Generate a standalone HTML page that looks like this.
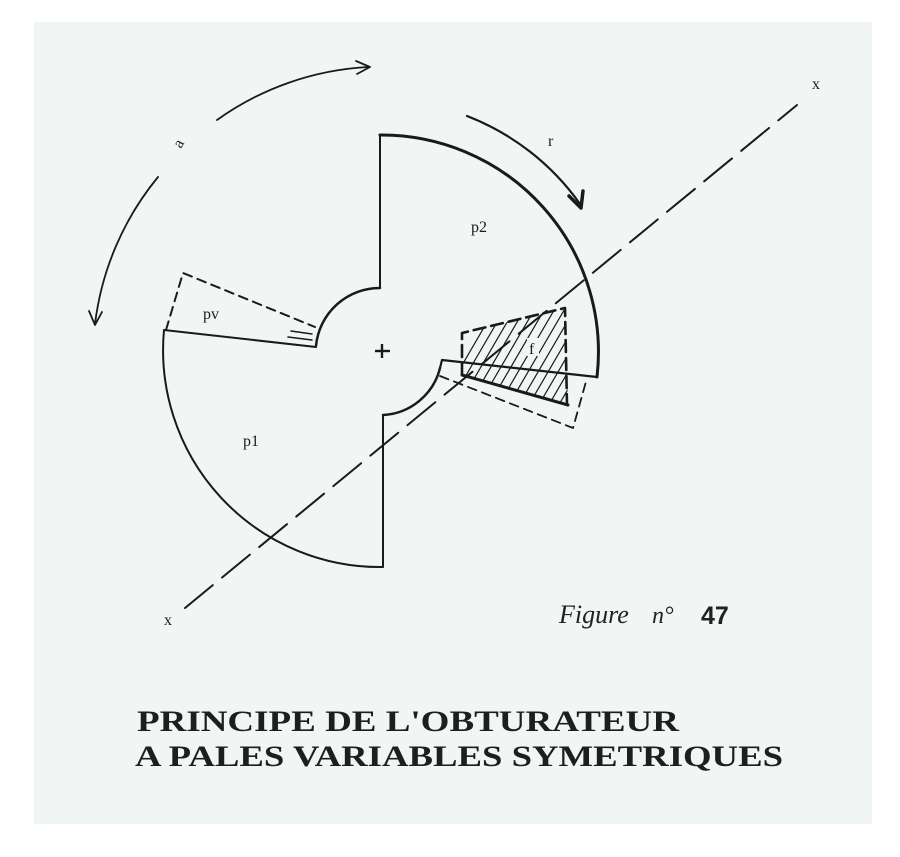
<!DOCTYPE html>
<html><head><meta charset="utf-8"><style>
html,body{margin:0;padding:0;background:#fff;}
body{width:900px;height:857px;position:relative;overflow:hidden;}
.paper{position:absolute;left:34px;top:22px;width:838px;height:802px;background:#f1f6f5;}
svg{position:absolute;left:0;top:0;}
</style></head><body>
<div class="paper"></div>
<svg width="900" height="857" viewBox="0 0 900 857" font-family="Liberation Serif, serif">
<defs>
<clipPath id="fc"><polygon points="462,333 565,308 568,405 462,375"/></clipPath>
</defs>
<g fill="none" stroke="#1a1a1a" stroke-linecap="round" stroke-linejoin="round">
<line x1="185" y1="608" x2="797" y2="105" stroke-width="2" stroke-dasharray="36,12"/>
<path d="M217,120 A286,286 0 0 1 368,67" stroke-width="1.8"/>
<path d="M356,61 L370,67 L357,74" stroke-width="1.8"/>
<path d="M158,177 A286,286 0 0 0 95,324" stroke-width="1.8"/>
<path d="M89,311 L95,325 L102,312" stroke-width="1.8"/>
<path d="M467,116 A248,248 0 0 1 580,204" stroke-width="2.2"/>
<path d="M569,196 L581,208 L583,191" stroke-width="3.5"/>
<path d="M380,135 A217,217 0 0 1 597,377" stroke-width="3"/>
<line x1="380" y1="135" x2="380" y2="288" stroke-width="2"/>
<path d="M316,346 A64,64 0 0 1 380,288" stroke-width="2.5"/>
<path d="M597,377 L442,360 L440,368" stroke-width="2.2"/>
<path d="M440,368 A62,62 0 0 1 383,415" stroke-width="2.5"/>
<path d="M383,415 L383,567 A217,217 0 0 1 164,330 L316,347" stroke-width="2"/>
<path d="M166,330 L183,273 L315,327" stroke-width="2" stroke-dasharray="9,6"/>
<line x1="291" y1="331" x2="312" y2="334" stroke-width="1.5"/>
<line x1="288" y1="337" x2="312" y2="340" stroke-width="1.5"/>
<g clip-path="url(#fc)" stroke-width="1.2">
<line x1="440" y1="420" x2="510" y2="300"/><line x1="450" y1="420" x2="520" y2="300"/>
<line x1="460" y1="420" x2="530" y2="300"/><line x1="470" y1="420" x2="540" y2="300"/>
<line x1="480" y1="420" x2="550" y2="300"/><line x1="490" y1="420" x2="560" y2="300"/>
<line x1="500" y1="420" x2="570" y2="300"/><line x1="510" y1="420" x2="580" y2="300"/>
<line x1="520" y1="420" x2="590" y2="300"/><line x1="530" y1="420" x2="600" y2="300"/>
<line x1="540" y1="420" x2="610" y2="300"/><line x1="550" y1="420" x2="620" y2="300"/>
<line x1="560" y1="420" x2="630" y2="300"/><line x1="430" y1="420" x2="500" y2="300"/>
</g>
<path d="M462,375 L462,333 L565,308 L567,405" stroke-width="2.6" stroke-dasharray="12,6"/>
<path d="M462,375 L568,405" stroke-width="3"/>
<path d="M440,376 L573,428 L587,378" stroke-width="1.8" stroke-dasharray="9,6"/>
</g>
<g stroke="#1a1a1a" stroke-width="2.4"><line x1="375" y1="351" x2="390" y2="351"/><line x1="382" y1="344" x2="382" y2="358"/></g>
<g fill="#1a1a1a" font-size="16">
<text x="471" y="232">p2</text>
<text x="203" y="319">pv</text>
<text x="243" y="446">p1</text>
<rect x="527" y="338" width="12" height="18" fill="#f1f6f5"/>
<text x="529" y="354">f</text>
<text x="548" y="146">r</text>
<text x="812" y="89">x</text>
<text x="164" y="625">x</text>
<text x="0" y="0" transform="translate(181,149) rotate(-60)">a</text>
</g>
<text x="559" y="623" font-size="26" font-style="italic" fill="#222">Figure</text>
<text x="652" y="623" font-size="24" font-style="italic" fill="#222">n°</text>
<text x="701" y="624" font-size="25" font-family="Liberation Sans, sans-serif" font-weight="bold" fill="#222">47</text>
<g font-family="Liberation Serif, serif" font-weight="bold" font-size="30" fill="#1e1e1e">
<text x="137" y="731" textLength="542" lengthAdjust="spacingAndGlyphs">PRINCIPE  DE  L'OBTURATEUR</text>
<text x="135" y="766" textLength="648" lengthAdjust="spacingAndGlyphs">A PALES VARIABLES SYMETRIQUES</text>
</g>
</svg>
</body></html>
